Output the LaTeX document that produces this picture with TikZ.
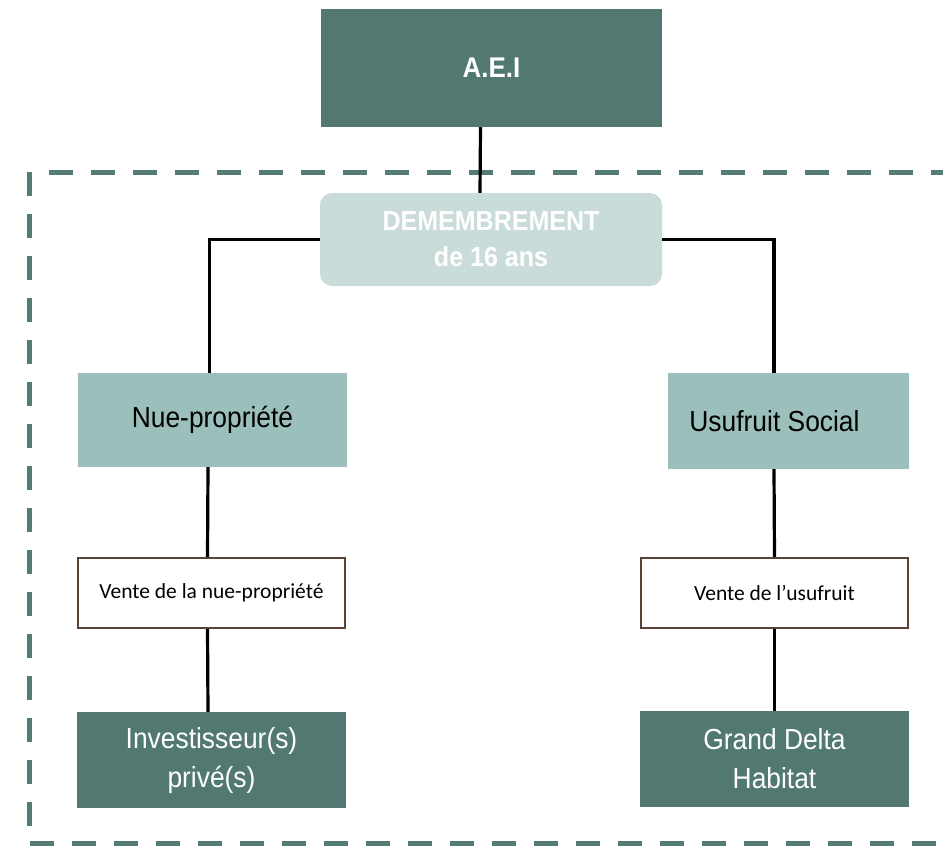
\documentclass[tikz,border=0pt]{standalone}
\usepackage{fontspec}
\setmainfont{Liberation Sans}
\newfontfamily\narrowfont{Liberation Sans}[FakeStretch=0.91]
\newfontfamily\calib{Carlito}
\definecolor{dark}{HTML}{527872}
\definecolor{mid}{HTML}{9BC0BC}
\definecolor{light}{HTML}{CADCDA}
\definecolor{brd}{HTML}{5B4236}
\definecolor{dashcol}{HTML}{557B76}
\begin{document}
\begin{tikzpicture}[x=1pt,y=-1pt,
  darkbox/.style={fill=dark,draw=none,text=white,align=center,font=\narrowfont\fontsize{29}{39}\selectfont},
  midbox/.style={fill=mid,draw=none,text=black,align=center,font=\narrowfont\fontsize{29}{39}\selectfont},
  midtext/.style={text=black,align=center,font=\narrowfont\fontsize{29}{39}\selectfont},
  whitebox/.style={fill=white,draw=brd,line width=2pt,text=black,font=\calib\fontsize{21.5}{24}\selectfont},
  conn/.style={draw=black,line width=3.2pt},
  border/.style={draw=dashcol,line width=5pt,dash pattern=on 24pt off 18pt}]
\useasboundingbox (0,0) rectangle (943,852);
\begin{scope}
\clip (0,0) rectangle (943,852);
\draw[border] (29,172) -- (29,843) -- (960,843);
\draw[border] (49,172) -- (960,172);
\end{scope}
\node[darkbox,minimum width=341,minimum height=118,font=\narrowfont\bfseries\fontsize{28.5}{30}\selectfont] (aei) at (491.5,68) {A.E.I};
\node[fill=light,rounded corners=12pt,text=white,align=center,minimum width=342,minimum height=93,font=\narrowfont\bfseries\fontsize{27.5}{36}\selectfont] (dem) at (491,239.5) {DEMEMBREMENT\\de 16 ans};
\node[midbox,minimum width=269,minimum height=94] (nue) at (212.5,420) {Nue-propriété};
\node[midbox,minimum width=241,minimum height=96] (usu) at (788.5,421) {};
\node[midtext] (usutext) at ([xshift=-14pt]usu.center) {Usufruit Social};
\node[whitebox,minimum width=267,minimum height=70] (v1) at (211.5,593) {Vente de la nue-propriété};
\node[whitebox,minimum width=267,minimum height=70] (v2) at (774.5,593) {Vente de l’usufruit};
\node[darkbox,minimum width=269,minimum height=96] (inv) at (211.5,760) {Investisseur(s)\\privé(s)};
\node[darkbox,minimum width=269,minimum height=96] (gdh) at (774.5,759) {Grand Delta\\Habitat};
\draw[conn] ([xshift=-11pt]aei.south) -- ([xshift=-11pt]dem.north);
\draw[conn] (dem.west) -| ([xshift=-3pt]nue.north);
\draw[conn] (dem.east) -| ([xshift=-14.5pt]usu.north);
\draw[conn] ([xshift=-4.5pt]nue.south) -- ([xshift=-4pt]v1.north);
\draw[conn] ([xshift=-4pt]v1.south) -- ([xshift=-3.5pt]inv.north);
\draw[conn] ([xshift=-14.5pt]usu.south) -- (v2.north);
\draw[conn] (v2.south) -- (gdh.north);
\end{tikzpicture}
\end{document}
